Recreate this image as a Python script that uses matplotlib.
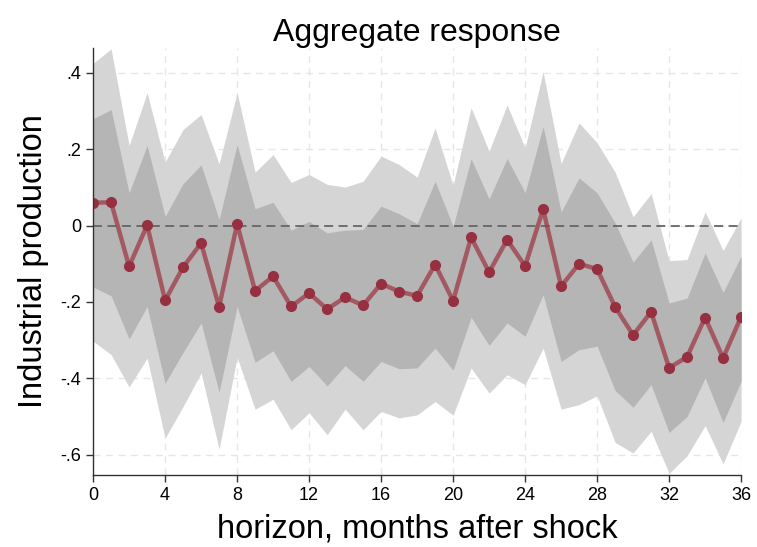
import numpy as np
import matplotlib
matplotlib.use('Agg')
import matplotlib.pyplot as plt

plt.rcParams['font.family'] = ['Liberation Sans', 'DejaVu Sans']

horizon = np.arange(0, 37)

# point estimate
irf = [0.060, 0.061, -0.107, 0.001, -0.196, -0.109, -0.046, -0.213, 0.004, -0.171,
       -0.133, -0.212, -0.177, -0.219, -0.188, -0.209, -0.152, -0.173, -0.184, -0.102,
       -0.197, -0.031, -0.122, -0.037, -0.106, 0.043, -0.159, -0.100, -0.114, -0.213,
       -0.287, -0.226, -0.373, -0.344, -0.241, -0.347, -0.239]

# inner band
in_hi = [0.280, 0.304, 0.086, 0.210, 0.024, 0.110, 0.159, 0.016, 0.212, 0.044,
         0.061, -0.012, 0.011, -0.019, -0.012, -0.010, 0.051, 0.031, 0.005, 0.116,
         -0.002, 0.175, 0.070, 0.176, 0.086, 0.260, 0.036, 0.125, 0.086, 0.007,
         -0.096, -0.037, -0.203, -0.190, -0.072, -0.175, -0.080]
in_lo = [-0.161, -0.184, -0.297, -0.212, -0.413, -0.332, -0.255, -0.437, -0.212, -0.358,
         -0.328, -0.408, -0.369, -0.420, -0.367, -0.408, -0.356, -0.375, -0.373, -0.321,
         -0.379, -0.240, -0.314, -0.255, -0.290, -0.181, -0.356, -0.325, -0.316, -0.432,
         -0.476, -0.417, -0.542, -0.500, -0.399, -0.516, -0.408]

# outer band
out_hi = [0.425, 0.463, 0.210, 0.348, 0.166, 0.252, 0.291, 0.162, 0.348, 0.140,
          0.186, 0.113, 0.134, 0.108, 0.101, 0.116, 0.182, 0.160, 0.127, 0.256,
          0.105, 0.309, 0.195, 0.316, 0.204, 0.403, 0.163, 0.269, 0.217, 0.140,
          0.023, 0.084, -0.092, -0.089, 0.036, -0.065, 0.020]
out_lo = [-0.303, -0.338, -0.423, -0.347, -0.557, -0.474, -0.386, -0.586, -0.345, -0.481,
          -0.455, -0.535, -0.490, -0.548, -0.481, -0.535, -0.487, -0.504, -0.496, -0.461,
          -0.497, -0.373, -0.439, -0.391, -0.417, -0.321, -0.481, -0.469, -0.446, -0.568,
          -0.596, -0.539, -0.649, -0.603, -0.524, -0.624, -0.513]

xticks = list(range(0, 37, 4))
yticks = [0.4, 0.2, 0.0, -0.2, -0.4, -0.6]
ylabels = ['.4', '.2', '0', '-.2', '-.4', '-.6']

fig = plt.figure(figsize=(7.57, 5.47), dpi=100)
ax = fig.add_axes([0.123, 0.132, 0.856, 0.78])

ax.fill_between(horizon, out_lo, out_hi, color='#d5d5d5', lw=0, zorder=1)
ax.fill_between(horizon, in_lo, in_hi, color='#b5b5b5', lw=0, zorder=2)

ax.set_xticks(xticks)
ax.set_yticks(yticks)
ax.set_yticklabels(ylabels)
ax.grid(True, color='#e6e6e6', ls=(0, (5, 4)), lw=1.0, zorder=0)
ax.set_axisbelow(True)

ax.axhline(0, color='#666666', ls=(0, (5, 3)), lw=1.3, zorder=3)

ax.plot(horizon, irf, color='#9e3a47', lw=3.2, alpha=0.75, zorder=4)
ax.plot(horizon, irf, 'o', color='#963040', ms=7, zorder=5)

ax.set_xlim(0, 36)
ax.set_ylim(-0.653, 0.465)

for s in ['top', 'right']:
    ax.spines[s].set_visible(False)
for s in ['left', 'bottom']:
    ax.spines[s].set_color('#333333')
    ax.spines[s].set_linewidth(1.0)
    ax.spines[s].set_zorder(6)
ax.tick_params(direction='out', length=5, width=1, color='#333333', labelsize=13)

ax.set_title('Aggregate response', fontsize=23, pad=5)
ax.set_xlabel('horizon, months after shock', fontsize=23.5, labelpad=7)
ax.set_ylabel('Industrial production', fontsize=23.5, labelpad=8)

plt.savefig('out.png', dpi=100)
